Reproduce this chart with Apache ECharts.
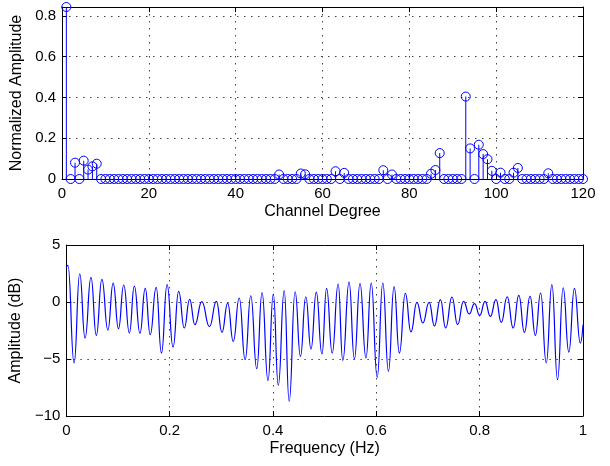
<!DOCTYPE html>
<html>
<head>
<meta charset="utf-8">
<script src="https://cdn.jsdelivr.net/npm/echarts@6/dist/echarts.min.js"></script>
<style>
  html, body { margin: 0; padding: 0; background: #fff; }
  #chart { width: 610px; height: 466px; }
</style>
</head>
<body>
<div id="chart"></div>
<script>
// ---------- Top panel: stem plot ----------
const channelDegree = [
  1,2,3,4,5,6,7,8,9,10,11,12,13,14,15,16,17,18,19,20,
  21,22,23,24,25,26,27,28,29,30,31,32,33,34,35,36,37,38,39,40,
  41,42,43,44,45,46,47,48,49,50,51,52,53,54,55,56,57,58,59,60,
  61,62,63,64,65,66,67,68,69,70,71,72,73,74,75,76,77,78,79,80,
  81,82,83,84,85,86,87,88,89,90,91,92,93,94,95,96,97,98,99,100,
  101,102,103,104,105,106,107,108,109,110,111,112,113,114,115,116,117,118,119,120
];
const normalizedAmplitude = [
  0.843,0,0.08,0,0.09,0.046,0.062,0.075,0,0,0,0,0,0,0,0,0,0,0,0,
  0,0,0,0,0,0,0,0,0,0,0,0,0,0,0,0,0,0,0,0,
  0,0,0,0,0,0,0,0,0,0.022,0,0,0,0,0.027,0.023,0,0,0,0,
  0,0,0.038,0,0.03,0,0,0,0,0,0,0,0,0.043,0,0.022,0,0,0,0,
  0,0,0,0,0.026,0.044,0.127,0,0,0,0,0,0.404,0.15,0,0.168,0.122,0.097,0.04,0,
  0.031,0,0,0.031,0.054,0,0,0,0,0,0,0.028,0,0,0,0,0,0,0,0
];
const channelTicks = [0, 20, 40, 60, 80, 100, 120];
const amplitudeTicks = [0, 0.2, 0.4, 0.6, 0.8];

// ---------- Bottom panel: frequency response (peaks & troughs) ----------
const frequencyHz = [
  0.000,0.003,0.0150,0.0259,0.0362,0.0477,0.0580,0.0688,0.0804,0.0906,
  0.1009,0.1111,0.1220,0.1316,0.1425,0.1527,0.1623,0.1739,0.1841,0.1950,
  0.2065,0.2174,0.2283,0.2386,0.2488,0.2622,0.2770,0.2904,0.3013,0.3122,
  0.3231,0.3346,0.3461,0.3570,0.3685,0.3788,0.3903,0.4006,0.4102,0.4217,
  0.4313,0.4428,0.4531,0.4634,0.4736,0.4838,0.4947,0.5037,0.5146,0.5261,
  0.5351,0.5472,0.5575,0.5684,0.5799,0.5901,0.6017,0.6125,0.6234,0.6343,
  0.6446,0.6561,0.6670,0.6785,0.6900,0.7022,0.7124,0.7240,0.7342,0.7464,
  0.7573,0.7688,0.7797,0.7900,0.8002,0.8104,0.8207,0.8316,0.8418,0.8533,
  0.8649,0.8758,0.8866,0.8975,0.9078,0.9180,0.9289,0.9398,0.9507,0.9616,
  0.9725,0.9834,0.9949,1.000
];
const amplitudeDb = [
  3.05,3.21,-5.35,2.48,-3.16,2.16,-2.93,1.99,-2.46,1.66,
  -2.34,1.49,-2.72,1.40,-2.75,1.20,-2.87,1.28,-4.48,1.52,
  -3.95,0.93,-2.28,0.23,-1.99,0.03,-2.17,0.06,-2.66,-0.09,
  -3.45,0.35,-5.06,0.55,-5.85,0.82,-6.90,0.70,-7.31,0.99,
  -8.72,0.90,-4.77,0.46,-4.13,0.87,-4.56,1.20,-4.48,1.58,
  -5.12,1.75,-5.00,1.61,-4.91,1.66,-6.61,1.69,-6.08,1.34,
  -4.48,0.76,-2.63,-0.03,-1.84,-0.03,-2.10,0.20,-2.28,0.44,
  -1.99,0.06,-1.05,-0.15,-1.17,0.06,-1.26,0.20,-1.79,0.46,
  -2.28,0.58,-2.66,0.49,-2.93,0.79,-5.35,1.52,-6.81,1.25,
  -4.39,1.20,-3.60,-2.0
];
const freqTicks = [0, 0.2, 0.4, 0.6, 0.8, 1];
const dbTicks = [-10, -5, 0, 5];

const FONT = '"Liberation Sans", Arial, Helvetica, sans-serif';
const BLUE = '#0000ff';
const gridLine = { show: true, lineStyle: { color: '#444', width: 1, type: [1.5, 5.5] } };
const axLine = { show: true, onZero: false, lineStyle: { color: '#000', width: 1 } };
const tick = { show: true, inside: true, length: 5, lineStyle: { color: '#000' } };
const labelStyle = { color: '#000', fontFamily: FONT, fontSize: 15 };
const nameStyle = { color: '#000', fontFamily: FONT, fontSize: 16 };
const minus = v => String(v).replace('-', '\u2212');

function xAxes(gi, min, max, interval, name) {
  return [
    { type: 'value', gridIndex: gi, position: 'bottom', min, max, interval,
      axisLine: axLine, axisTick: tick, splitLine: gridLine,
      axisLabel: Object.assign({ margin: 7, formatter: minus }, labelStyle),
      name, nameLocation: 'middle', nameGap: 25, nameTextStyle: nameStyle },
    { type: 'value', gridIndex: gi, position: 'top', min, max, interval,
      axisLine: axLine, axisTick: tick, splitLine: { show: false }, axisLabel: { show: false } }
  ];
}
function yAxes(gi, min, max, interval, name) {
  return [
    { type: 'value', gridIndex: gi, position: 'left', min, max, interval,
      axisLine: axLine, axisTick: tick, splitLine: gridLine,
      axisLabel: Object.assign({ margin: 6, showMaxLabel: Number.isInteger((max - min) / interval) ? true : false, formatter: minus }, labelStyle),
      name, nameLocation: 'middle', nameGap: 36, nameTextStyle: nameStyle },
    { type: 'value', gridIndex: gi, position: 'right', min, max, interval,
      axisLine: axLine, axisTick: tick, splitLine: { show: false }, axisLabel: { show: false } }
  ];
}

const stemData = channelDegree.map((c, i) => [c, normalizedAmplitude[i]]);
const respData = frequencyHz.map((f, i) => [f, amplitudeDb[i]]);

const chart = echarts.init(document.getElementById('chart'), null, { renderer: 'canvas' });
chart.setOption({
  animation: false,
  backgroundColor: '#fff',
  grid: [
    { left: 62, top: 7, width: 521, height: 172 },
    { left: 62, top: 245, width: 521, height: 171 }
  ],
  xAxis: [].concat(
    xAxes(0, channelTicks[0], channelTicks[channelTicks.length - 1], 20, 'Channel Degree'),
    xAxes(1, freqTicks[0], freqTicks[freqTicks.length - 1], 0.2, 'Frequency (Hz)')
  ),
  yAxis: [].concat(
    yAxes(0, 0, 0.843, 0.2, 'Normalized Amplitude'),
    yAxes(1, dbTicks[0], dbTicks[dbTicks.length - 1], 5, 'Amplitude (dB)')
  ),
  series: [
    { type: 'bar', xAxisIndex: 0, yAxisIndex: 0, data: stemData, barWidth: 1,
      itemStyle: { color: BLUE }, silent: true },
    { type: 'scatter', xAxisIndex: 0, yAxisIndex: 0, data: stemData, symbol: 'circle', symbolSize: 9,
      clip: false, silent: true,
      itemStyle: { color: 'rgba(0,0,0,0)', borderColor: BLUE, borderWidth: 1, opacity: 1 } },
    { type: 'line', xAxisIndex: 2, yAxisIndex: 2, data: respData, showSymbol: false,
      smooth: 0.5, smoothMonotone: 'x', silent: true,
      lineStyle: { color: BLUE, width: 1.2 } }
  ]
});
</script>
</body>
</html>
